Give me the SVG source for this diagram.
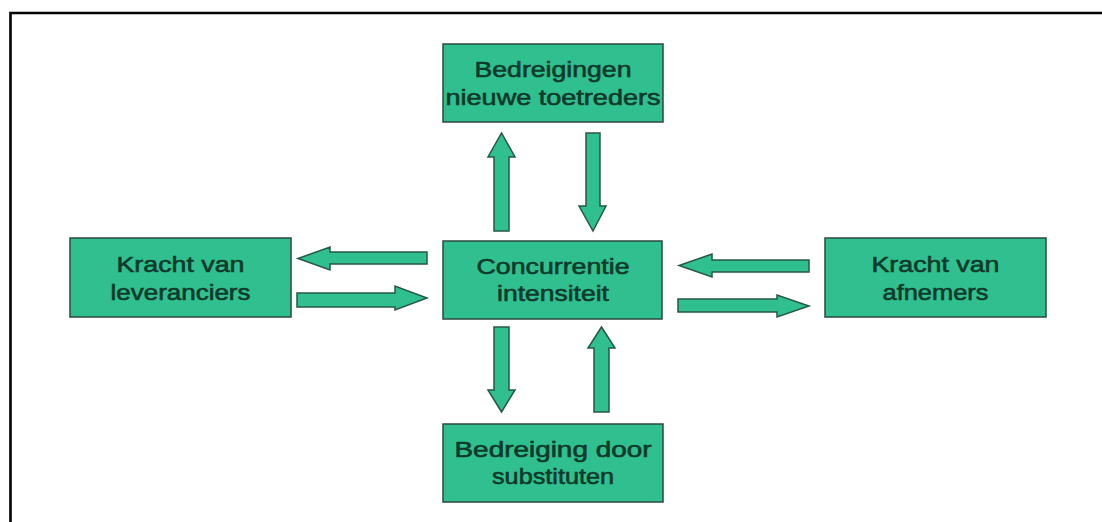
<svg xmlns="http://www.w3.org/2000/svg" width="1102" height="522" viewBox="0 0 1102 522">
  <style>
    .box { fill: #30C090; stroke: #2A4A3E; stroke-width: 1.5; }
    .arrow { fill: #30C090; stroke: #26574A; stroke-width: 1.5; stroke-linejoin: miter; }
    .label { font-family: "Liberation Sans", Arial, sans-serif; font-size: 22px; font-weight: normal; fill: #0F3A2A; stroke: #0F3A2A; stroke-width: 0.6; text-anchor: middle; }
    .frame { fill: none; stroke: #000; stroke-width: 2.6; }
  </style>
  <rect width="1102" height="522" fill="#ffffff"/>
  <!-- page frame, only top and left edges inside the view -->
  <path class="frame" d="M10.5,522 V13 H1102"/>

  <g id="node-toetreders">
    <rect class="box" x="443" y="44" width="220" height="78"/>
    <text class="label" x="553" y="77" textLength="157" lengthAdjust="spacingAndGlyphs">Bedreigingen</text>
    <text class="label" x="553" y="105" textLength="215" lengthAdjust="spacingAndGlyphs">nieuwe toetreders</text>
  </g>

  <g id="node-concurrentie">
    <rect class="box" x="443" y="241" width="219" height="78"/>
    <text class="label" x="553" y="274" textLength="153" lengthAdjust="spacingAndGlyphs">Concurrentie</text>
    <text class="label" x="553" y="301" textLength="112" lengthAdjust="spacingAndGlyphs">intensiteit</text>
  </g>

  <g id="node-leveranciers">
    <rect class="box" x="70" y="238" width="221" height="79"/>
    <text class="label" x="180.5" y="272" textLength="128" lengthAdjust="spacingAndGlyphs">Kracht van</text>
    <text class="label" x="180.5" y="300" textLength="140" lengthAdjust="spacingAndGlyphs">leveranciers</text>
  </g>

  <g id="node-afnemers">
    <rect class="box" x="825" y="238" width="221" height="79"/>
    <text class="label" x="935.5" y="272" textLength="128" lengthAdjust="spacingAndGlyphs">Kracht van</text>
    <text class="label" x="935.5" y="300" textLength="106" lengthAdjust="spacingAndGlyphs">afnemers</text>
  </g>

  <g id="node-substituten">
    <rect class="box" x="443" y="424" width="220" height="78"/>
    <text class="label" x="553" y="457" textLength="197" lengthAdjust="spacingAndGlyphs">Bedreiging door</text>
    <text class="label" x="553" y="484" textLength="122" lengthAdjust="spacingAndGlyphs">substituten</text>
  </g>

  <g id="connectors">
    <!-- vertical pair between centre and entrants -->
    <polygon class="arrow" points="494,231 494,157 488,157 501.5,133 515,157 509,157 509,231"/>
    <polygon class="arrow" points="586,133 600,133 600,206 606,206 593,231 579,206 586,206"/>
    <!-- vertical pair between centre and substitutes -->
    <polygon class="arrow" points="494,327 509,327 509,390 515,390 501.5,412 488,390 494,390"/>
    <polygon class="arrow" points="594,412 594,348 588,348 601.5,327 615,348 609,348 609,412"/>
    <!-- horizontal pair between suppliers and centre -->
    <polygon class="arrow" points="427,252 427,264 330,264 330,270 298,258.5 330,247 330,252"/>
    <polygon class="arrow" points="297,293 395,293 395,286 427,298 395,310 395,307 297,307"/>
    <!-- horizontal pair between centre and buyers -->
    <polygon class="arrow" points="809,260 809,272 712,272 712,277 679,265.5 712,254 712,260"/>
    <polygon class="arrow" points="678,299 777,299 777,295 809,306 777,317 777,312 678,312"/>
  </g>
</svg>
